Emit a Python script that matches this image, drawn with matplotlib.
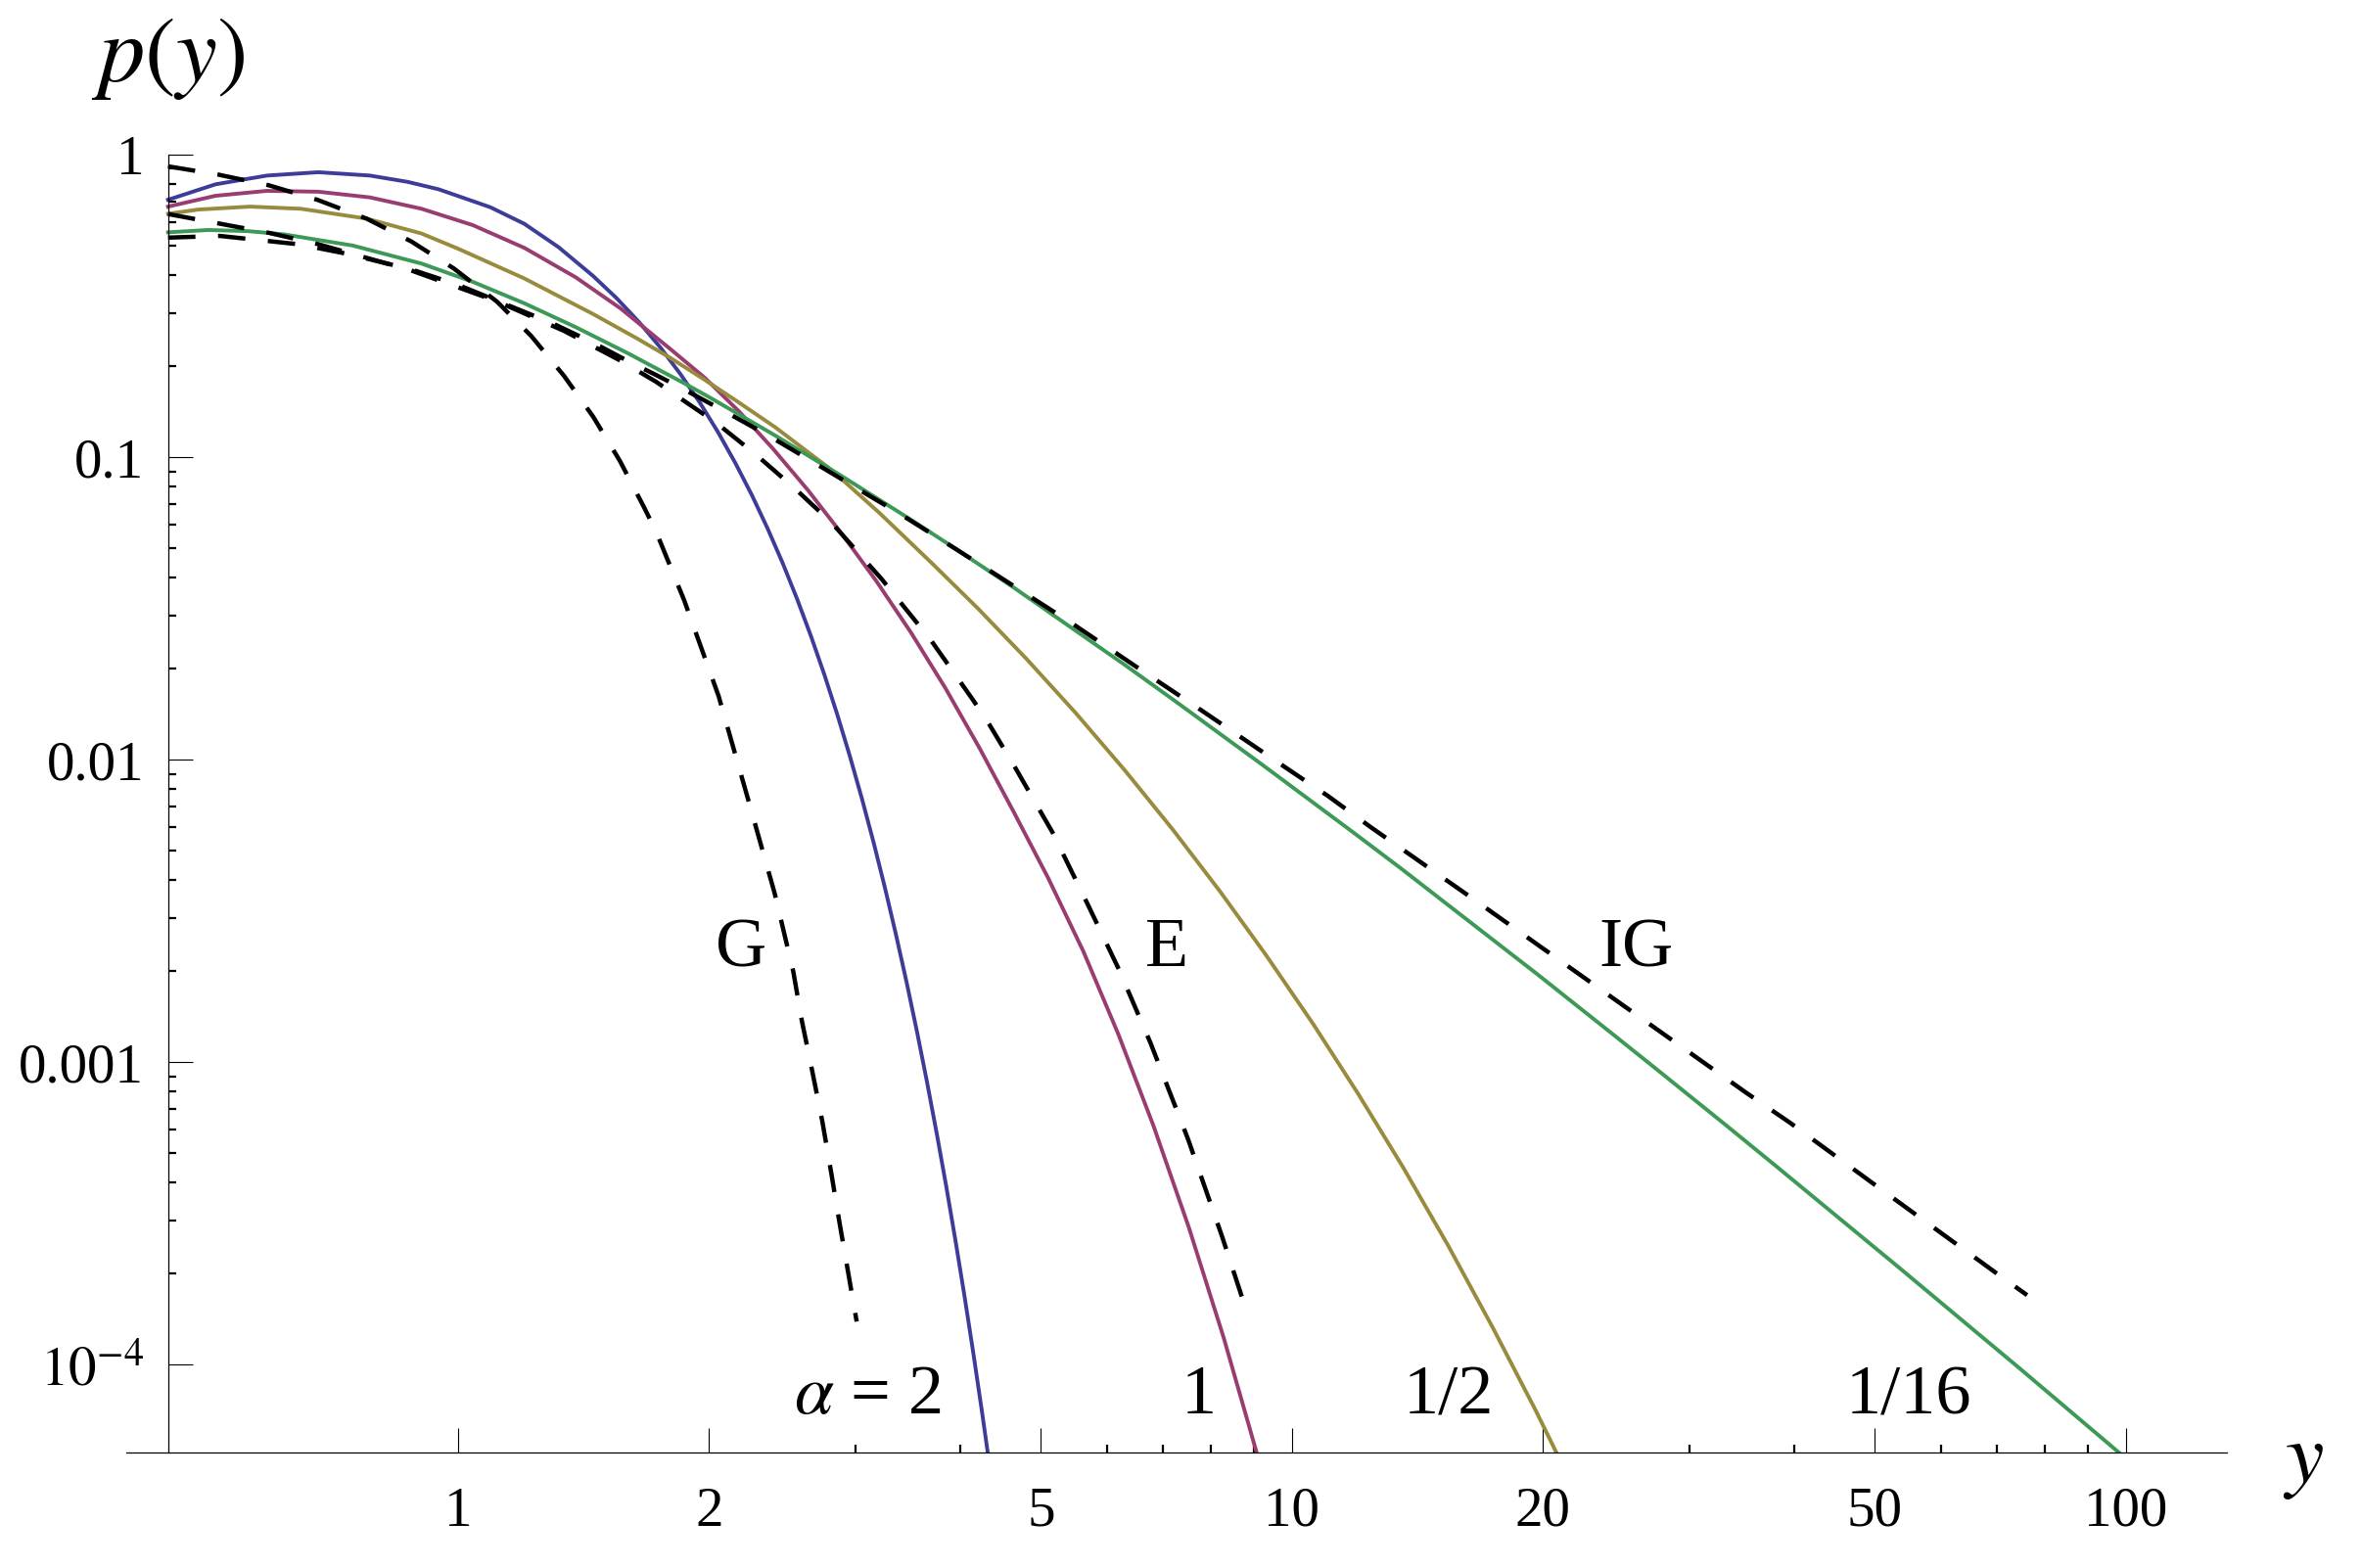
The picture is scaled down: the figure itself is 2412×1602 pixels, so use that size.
#!/usr/bin/env python

import matplotlib
matplotlib.use('Agg')
import matplotlib.pyplot as plt
from matplotlib.ticker import FixedLocator, FixedFormatter, NullFormatter

# curves: y values and p(y)
blue_y = [0.449, 0.512, 0.590, 0.680, 0.784, 0.870, 0.948, 1.093, 1.201, 1.320, 1.452, 1.55,
          1.65, 1.75, 1.85, 1.95, 2.05, 2.15, 2.25, 2.35, 2.45, 2.55, 2.65, 2.75,
          2.85, 2.95, 3.05, 3.15, 3.25, 3.35, 3.45, 3.55, 3.65, 3.75, 3.85, 3.95,
          4.05, 4.15, 4.25, 4.35]
blue_p = [0.711, 0.800, 0.855, 0.877, 0.855, 0.815, 0.770, 0.672, 0.592, 0.4955, 0.398, 0.3357,
          0.2793, 0.2302, 0.1877, 0.1516, 0.1212, 0.0959, 0.0752, 0.0583, 0.0448, 0.03405, 0.02563, 0.0191,
          0.01409, 0.01029, 0.00744, 0.00533, 0.003777, 0.002649, 0.001841, 0.001266, 0.000862, 0.000581, 0.000388, 0.000256,
          0.0001675, 0.0001084, 0.0000695, 0.0000441]

purple_y = [0.449, 0.512, 0.590, 0.680, 0.784, 0.904, 1.042, 1.201, 1.384, 1.566, 1.798, 1.977,
            2.174, 2.389, 2.627, 2.888, 3.176, 3.491, 3.839, 4.220, 4.640, 5.10, 5.62, 6.19,
            6.82, 7.52, 8.28, 9.13, 9.40]
purple_p = [0.675, 0.733, 0.761, 0.756, 0.724, 0.664, 0.586, 0.493, 0.394, 0.311, 0.228, 0.1832,
            0.1416, 0.1064, 0.0780, 0.0557, 0.0389, 0.0264, 0.0173, 0.01094, 0.00671, 0.00407, 0.00233, 0.00124,
            0.000618, 0.000285, 0.000123, 0.0000481, 0.0000357]

olive_y = [0.449, 0.488, 0.563, 0.648, 0.777, 0.904, 1.0, 1.2, 1.45, 1.64, 1.8, 1.98,
           2.17, 2.4, 2.8, 3.2, 3.7, 4.2, 4.8, 5.5, 6.3, 7.2, 8.2, 9.3,
           10.6, 12.0, 13.6, 15.4, 17.4, 19.6, 21.5]
olive_p = [0.639, 0.660, 0.675, 0.664, 0.616, 0.550, 0.490, 0.391, 0.2985, 0.2472, 0.2128, 0.1799,
           0.1521, 0.1259, 0.0912, 0.0656, 0.0447, 0.0317, 0.02163, 0.01432, 0.00925, 0.00587, 0.00367, 0.00227,
           0.00134, 0.000788, 0.000448, 0.000247, 0.000133, 0.0000706, 0.000042]

green_y = [0.449, 0.502, 0.560, 0.618, 0.748, 0.904, 1.042, 1.201, 1.384, 1.60, 1.86, 2.0,
           2.39, 2.89, 3.49, 3.95, 4.64, 6.32, 7.23, 9.23, 11.81, 13.49, 19.70, 24.4,
           27.9, 33.4, 38.2, 53.4, 74.8, 100.0, 105.0]
green_p = [0.555, 0.565, 0.560, 0.5467, 0.5017, 0.4375, 0.3805, 0.3232, 0.2696, 0.2207, 0.1769, 0.1583,
           0.119, 0.0865, 0.0623, 0.0499, 0.0371, 0.0205, 0.0157, 0.0096, 0.00579, 0.00439, 0.001953, 0.001222,
           0.000909, 0.000609, 0.00045, 0.00021, 0.0000966, 0.000049, 0.0000437]

# dashed reference curves G, E, IG
g_y = [0.449, 0.515, 0.593, 0.678, 0.777, 0.879, 0.989, 1.114, 1.224, 1.340, 1.452, 1.563,
       1.669, 1.727, 1.867, 2.053, 2.219, 2.397, 2.523, 2.584, 2.658, 2.735, 2.801, 2.868,
       2.937, 3.006]
g_p = [0.917, 0.862, 0.794, 0.711, 0.616, 0.5176, 0.421, 0.327, 0.252, 0.186, 0.1364, 0.0975,
       0.0689, 0.057, 0.0337, 0.01627, 0.00768, 0.00362, 0.0020, 0.00137, 0.00094, 0.000634, 0.000434, 0.000293,
       0.000201, 0.000139]

e_y = [0.449, 0.593, 0.678, 0.879, 1.114, 1.34, 1.563, 1.727, 2.038, 2.273, 2.529, 2.807,
       3.221, 3.689, 4.152, 4.335, 4.663, 5.005, 5.16, 5.686, 6.20, 6.765, 7.505, 8.235, 8.79]
e_p = [0.638, 0.553, 0.508, 0.415, 0.328, 0.262, 0.2095, 0.178, 0.1304, 0.1025, 0.0794, 0.0607,
       0.0396, 0.0249, 0.01567, 0.0131, 0.00937, 0.00667, 0.00577, 0.00334, 0.00203, 0.00116, 0.000557, 0.000268, 0.000155]

ig_y = [0.449, 0.518, 0.643, 0.737, 0.88, 1.0, 1.15, 1.3, 1.45, 1.6, 1.723, 1.846,
        2.093, 2.367, 2.673, 3.014, 3.401, 3.839, 4.32, 5.476, 6.50, 7.82, 9.86, 11.05,
        12.42, 16.49, 27.9, 35.1, 39.5, 49.6, 69.9, 76.1]
ig_p = [0.533, 0.540, 0.507, 0.471, 0.418, 0.372, 0.318, 0.277, 0.240, 0.208, 0.188, 0.1706,
        0.1415, 0.1172, 0.0961, 0.0788, 0.0646, 0.0524, 0.0426, 0.028, 0.02035, 0.01447, 0.00937, 0.00759,
        0.006, 0.00347, 0.00124, 0.000791, 0.000633, 0.0004, 0.000201, 0.00017]

# ticks
x_major = [1, 2, 5, 10, 20, 50, 100]
x_major_labels = ['1', '2', '5', '10', '20', '50', '100']
x_minor = [3, 4, 6, 7, 8, 9, 30, 40, 60, 70, 80, 90]
y_major = [1e-4, 1e-3, 1e-2, 0.1, 1]
y_major_labels = [r'$10^{-4}$', '0.001', '0.01', '0.1', '1']
y_minor = [k * 10.0 ** n for n in range(-4, 0) for k in range(2, 10)]

# text labels in the plot
name_labels = ['G', 'E', 'IG']
name_x = [2.184, 7.074, 25.89]
alpha_labels = [r'$\alpha$ = 2', '1', '1/2', '1/16']
alpha_x = [3.099, 7.735, 15.41, 54.9]

c_blue = '#3d3d99'
c_purple = '#993d71'
c_olive = '#998b3d'
c_green = '#3d9956'

plt.rcParams['font.family'] = ['Liberation Serif', 'DejaVu Serif']
plt.rcParams['mathtext.fontset'] = 'stix'

fig = plt.figure(figsize=(24.12, 16.02), dpi=100)
ax = fig.add_axes([0.0536, 0.07366, 0.8898, 0.8275])
ax.set_xscale('log')
ax.set_yscale('log')
ax.set_xlim(0.4004, 132.3)
ax.set_ylim(5.13e-5, 1.0)

lw = 2.8
ax.plot(blue_y, blue_p, color=c_blue, lw=lw)
ax.plot(purple_y, purple_p, color=c_purple, lw=lw)
ax.plot(olive_y, olive_p, color=c_olive, lw=lw)
ax.plot(green_y, green_p, color=c_green, lw=lw)

dlw = 3.2
dash = (6.3, 5.2)
for xs, ps in [(g_y, g_p), (e_y, e_p), (ig_y, ig_p)]:
    ax.plot(xs, ps, color='black', lw=dlw, linestyle=(0, dash))

for s in ['top', 'right']:
    ax.spines[s].set_visible(False)
ax.spines['left'].set_position(('data', 0.4494))
ax.spines['left'].set_linewidth(0.9)
ax.spines['bottom'].set_linewidth(0.9)

ax.xaxis.set_major_locator(FixedLocator(x_major))
ax.xaxis.set_major_formatter(FixedFormatter(x_major_labels))
ax.xaxis.set_minor_locator(FixedLocator(x_minor))
ax.xaxis.set_minor_formatter(NullFormatter())
ax.yaxis.set_major_locator(FixedLocator(y_major))
ax.yaxis.set_major_formatter(FixedFormatter(y_major_labels))
ax.yaxis.set_minor_locator(FixedLocator(y_minor))
ax.yaxis.set_minor_formatter(NullFormatter())

ax.tick_params(which='major', direction='in', length=18, width=0.8, labelsize=41)
ax.tick_params(which='minor', direction='in', length=5.8, width=1.6)
ax.tick_params(axis='x', which='major', pad=25)
ax.tick_params(axis='y', which='major', pad=18)

for t, x in zip(name_labels, name_x):
    ax.text(x, 0.00208, t, fontsize=52, ha='center', va='baseline')
for t, x in zip(alpha_labels, alpha_x):
    ax.text(x, 6.9e-5, t, fontsize=52, ha='center', va='baseline')

fig.text(0.0713, 0.949, r'$p(y)$', fontsize=68, ha='center', va='baseline')
fig.text(0.9755, 0.0550, r'$y$', fontsize=64, ha='center', va='baseline')

fig.savefig('out.png', dpi=100)
